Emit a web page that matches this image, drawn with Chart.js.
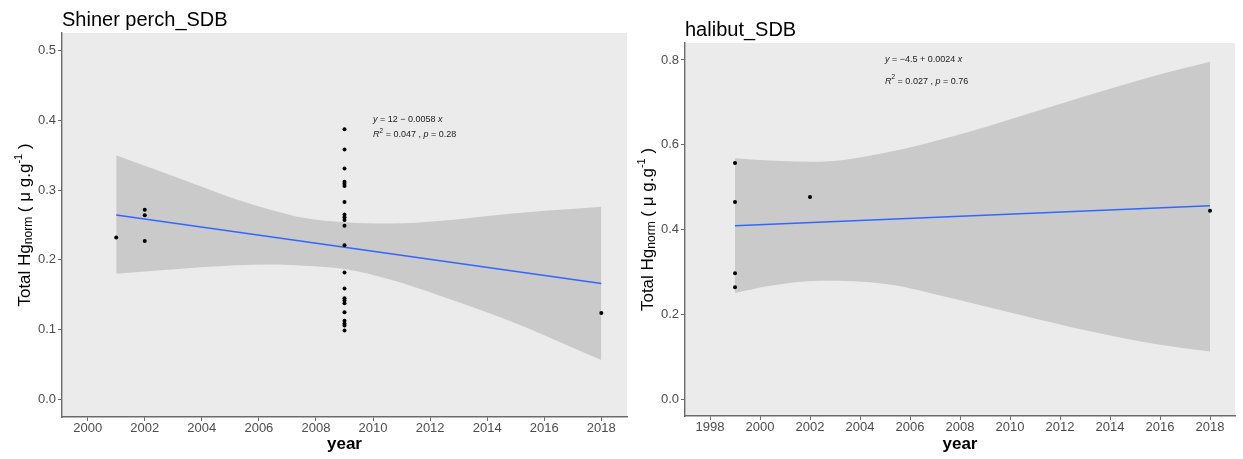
<!DOCTYPE html>
<html>
<head>
<meta charset="utf-8">
<script src="https://cdn.jsdelivr.net/npm/chart.js@4.4.1/dist/chart.umd.min.js"></script>
<style>
  html, body { margin: 0; padding: 0; background: #ffffff; width: 1243px; height: 459px; overflow: hidden; }
  .panel { position: absolute; top: 0; height: 459px; }
  #wrapPerch { left: 0; width: 640px; }
  #wrapHalibut { left: 630px; width: 613px; }
</style>
</head>
<body>
<div id="wrapPerch" class="panel"><canvas id="perchChart"></canvas></div>
<div id="wrapHalibut" class="panel"><canvas id="halibutChart"></canvas></div>
<script>
// ---- Shiner perch, SDB ----
const perchYears = [2001, 2002, 2002, 2002,
  2009, 2009, 2009, 2009, 2009, 2009, 2009, 2009, 2009, 2009, 2009,
  2009, 2009, 2009, 2009, 2009, 2009, 2009, 2009, 2009, 2009, 2009,
  2018];
const perchHg = [0.232, 0.272, 0.264, 0.227,
  0.387, 0.358, 0.331, 0.312, 0.309, 0.306, 0.283, 0.265, 0.261, 0.257, 0.249,
  0.221, 0.182, 0.159, 0.145, 0.142, 0.138, 0.125, 0.113, 0.109, 0.106, 0.099,
  0.124];
const perchFitYears = [2001, 2018];
const perchFitHg = [0.2644, 0.1662];
const perchBandYears = [2001, 2002.8, 2005.2, 2006.4, 2007.6, 2009, 2010.6, 2012.4, 2014.8, 2018];
const perchBandUpper = [0.350, 0.323, 0.287, 0.272, 0.260, 0.254, 0.252, 0.256, 0.266, 0.276];
const perchBandLower = [0.180, 0.186, 0.1925, 0.1935, 0.1916, 0.187, 0.172, 0.148, 0.1125, 0.0565];
const perchXTicks = [2000, 2002, 2004, 2006, 2008, 2010, 2012, 2014, 2016, 2018];
const perchYTicks = [0.0, 0.1, 0.2, 0.3, 0.4, 0.5];

// ---- Halibut, SDB ----
const halibutYears = [1999, 1999, 1999, 1999, 2002, 2018];
const halibutHg = [0.557, 0.465, 0.297, 0.2635, 0.4767, 0.4444];
const halibutFitYears = [1999, 2018];
const halibutFitHg = [0.409, 0.456];
const halibutBandYears = [1999, 2000.4, 2002.4, 2005.1, 2007.8, 2010.5, 2013.1, 2015.8, 2018];
const halibutBandUpper = [0.568, 0.563, 0.560, 0.582, 0.621, 0.669, 0.716, 0.763, 0.796];
const halibutBandLower = [0.250, 0.267, 0.279, 0.271, 0.236, 0.197, 0.161, 0.130, 0.112];
const halibutXTicks = [1998, 2000, 2002, 2004, 2006, 2008, 2010, 2012, 2014, 2016, 2018];
const halibutYTicks = [0.0, 0.2, 0.4, 0.6, 0.8];

const FAMILY = '"Liberation Sans", Arial, Helvetica, sans-serif';
const AXIS_COLOR = '#6b6b6b';
const TICK_TEXT = '#4D4D4D';

function pairs(xs, ys) { return xs.map((x, i) => ({ x: x, y: ys[i] })); }

// Draws a run of text pieces with their own size / style / vertical shift.
function drawRich(ctx, x, y, segs, align) {
  let total = 0;
  segs.forEach(s => {
    ctx.font = (s.it ? 'italic ' : '') + (s.bold ? 'bold ' : '') + s.size + 'px ' + FAMILY;
    s.w = ctx.measureText(s.t).width;
    total += s.w;
  });
  let cx = align === 'center' ? x - total / 2 : x;
  segs.forEach(s => {
    ctx.font = (s.it ? 'italic ' : '') + (s.bold ? 'bold ' : '') + s.size + 'px ' + FAMILY;
    ctx.fillText(s.t, cx, y + (s.dy || 0));
    cx += s.w;
  });
}

const panelBackground = {
  id: 'panelBackground',
  beforeDraw(chart) {
    const a = chart.chartArea, ctx = chart.ctx;
    ctx.save();
    ctx.fillStyle = '#EBEBEB';
    ctx.fillRect(a.left, a.top, a.right - a.left, a.bottom - a.top);
    ctx.restore();
  }
};

const panelText = {
  id: 'panelText',
  afterDraw(chart, args, opts) {
    const a = chart.chartArea, ctx = chart.ctx;
    const sx = chart.scales.x, sy = chart.scales.y;
    ctx.save();
    ctx.fillStyle = '#000';
    ctx.textBaseline = 'alphabetic';
    ctx.textAlign = 'left';
    // panel title
    ctx.font = '20px ' + FAMILY;
    ctx.fillText(opts.title, a.left, opts.titleBaseline);

    // x-axis title
    ctx.textBaseline = 'middle';
    ctx.font = 'bold 17px ' + FAMILY;
    ctx.textAlign = 'center';
    ctx.fillText('year', (a.left + a.right) / 2, 444);
    ctx.textAlign = 'left';

    // y-axis title, rotated
    ctx.save();
    ctx.translate(opts.yTitleX, (a.top + a.bottom) / 2);
    ctx.rotate(-Math.PI / 2);
    ctx.fillStyle = '#000';
    drawRich(ctx, 0, 0, [
      { t: 'Total Hg', size: 17 },
      { t: 'norm', size: 12, dy: 4 },
      { t: ' ( \u03BC g.g', size: 17 },
      { t: '-1', size: 11, dy: -6 },
      { t: ' )', size: 17 }
    ], 'center');
    ctx.restore();

    // regression annotation
    ctx.fillStyle = '#222';
    const ax = sx.getPixelForValue(opts.noteYear);
    drawRich(ctx, ax, sy.getPixelForValue(opts.noteLine1), opts.line1, 'left');
    drawRich(ctx, ax, sy.getPixelForValue(opts.noteLine2), opts.line2, 'left');
    ctx.restore();
  }
};

function makeChart(canvasId, cfg) {
  const canvas = document.getElementById(canvasId);
  return new Chart(canvas, {
    type: 'line',
    data: {
      datasets: [
        {
          data: pairs(cfg.bandYears, cfg.bandUpper),
          fill: '+1', backgroundColor: '#CACACA', borderWidth: 0, borderColor: 'rgba(0,0,0,0)',
          pointRadius: 0, cubicInterpolationMode: 'monotone', order: 3
        },
        {
          data: pairs(cfg.bandYears, cfg.bandLower),
          fill: false, borderWidth: 0, borderColor: 'rgba(0,0,0,0)',
          pointRadius: 0, cubicInterpolationMode: 'monotone', order: 3
        },
        {
          data: pairs(cfg.fitYears, cfg.fitHg),
          fill: false, borderColor: '#3366FF', borderWidth: 1.6, pointRadius: 0, order: 2
        },
        {
          data: pairs(cfg.years, cfg.hg),
          showLine: false, pointRadius: 2, pointBackgroundColor: '#000', pointBorderWidth: 0,
          pointBorderColor: '#000', order: 1
        }
      ]
    },
    options: {
      responsive: true,
      maintainAspectRatio: false,
      animation: false,
      events: [],
      layout: { padding: { top: cfg.areaTop, right: cfg.padRight, left: 0, bottom: 0 } },
      plugins: {
        legend: { display: false },
        tooltip: { enabled: false },
        panelText: cfg.text
      },
      scales: {
        x: {
          type: 'linear', min: cfg.xMin, max: cfg.xMax,
          afterBuildTicks: s => { s.ticks = cfg.xTicks.map(v => ({ value: v })); },
          afterFit: s => { s.height = cfg.xAxisHeight; },
          grid: { display: true, drawOnChartArea: false, drawTicks: true, tickLength: 4, color: AXIS_COLOR, lineWidth: 1 },
          border: { display: true, color: AXIS_COLOR, width: 1.4 },
          ticks: {
            color: TICK_TEXT, font: { family: FAMILY, size: 13 }, padding: 0,
            maxRotation: 0, autoSkip: false, callback: v => String(v)
          }
        },
        y: {
          type: 'linear', min: cfg.yMin, max: cfg.yMax,
          afterBuildTicks: s => { s.ticks = cfg.yTicks.map(v => ({ value: v })); },
          afterFit: s => { s.width = cfg.yAxisWidth; },
          grid: { display: true, drawOnChartArea: false, drawTicks: true, tickLength: 4, color: AXIS_COLOR, lineWidth: 1 },
          border: { display: true, color: AXIS_COLOR, width: 1.4 },
          ticks: {
            color: TICK_TEXT, font: { family: FAMILY, size: 13 }, padding: 2,
            autoSkip: false, callback: v => Number(v).toFixed(1)
          }
        }
      }
    },
    plugins: [panelBackground, panelText]
  });
}

makeChart('perchChart', {
  years: perchYears, hg: perchHg,
  fitYears: perchFitYears, fitHg: perchFitHg,
  bandYears: perchBandYears, bandUpper: perchBandUpper, bandLower: perchBandLower,
  xTicks: perchXTicks, yTicks: perchYTicks,
  xMin: 1999.1, xMax: 2018.9, yMin: -0.025, yMax: 0.525,
  areaTop: 33, padRight: 13, yAxisWidth: 62, xAxisHeight: 42,
  text: {
    title: 'Shiner perch_SDB', titleBaseline: 26, yTitleX: 25,
    noteYear: 2010.0, noteLine1: 0.401, noteLine2: 0.380,
    line1: [{ t: 'y', size: 9, it: true }, { t: ' = 12 \u2212 0.0058 ', size: 9 }, { t: 'x', size: 9, it: true }],
    line2: [{ t: 'R', size: 9, it: true }, { t: '2', size: 6.5, dy: -3.5 }, { t: ' = 0.047 , ', size: 9 },
            { t: 'p', size: 9, it: true }, { t: ' = 0.28', size: 9 }]
  }
});

makeChart('halibutChart', {
  years: halibutYears, hg: halibutHg,
  fitYears: halibutFitYears, fitHg: halibutFitHg,
  bandYears: halibutBandYears, bandUpper: halibutBandUpper, bandLower: halibutBandLower,
  xTicks: halibutXTicks, yTicks: halibutYTicks,
  xMin: 1997.0, xMax: 2019.0, yMin: -0.04, yMax: 0.84,
  areaTop: 43, padRight: 8, yAxisWidth: 55, xAxisHeight: 43,
  text: {
    title: 'halibut_SDB', titleBaseline: 36, yTitleX: 18,
    noteYear: 2005.0, noteLine1: 0.802, noteLine2: 0.750,
    line1: [{ t: 'y', size: 9, it: true }, { t: ' = \u22124.5 + 0.0024 ', size: 9 }, { t: 'x', size: 9, it: true }],
    line2: [{ t: 'R', size: 9, it: true }, { t: '2', size: 6.5, dy: -3.5 }, { t: ' = 0.027 , ', size: 9 },
            { t: 'p', size: 9, it: true }, { t: ' = 0.76', size: 9 }]
  }
});
</script>
</body>
</html>
